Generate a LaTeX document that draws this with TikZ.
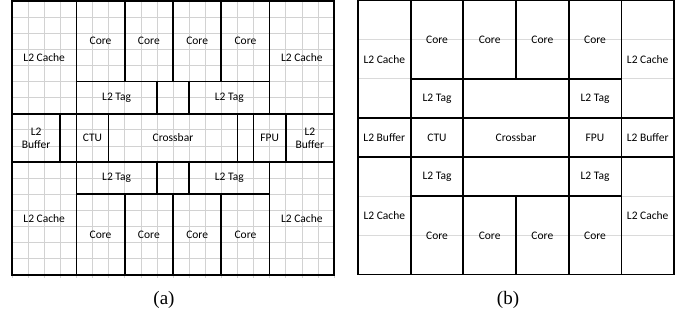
\documentclass[tikz,border=0pt]{standalone}
\usepackage{fontspec}
\usepackage{xcolor}
\newfontfamily\lblfont{Carlito}
\newfontfamily\capfont{Liberation Serif}
\definecolor{gridGray}{HTML}{D2D2D2}
\definecolor{faintGray}{HTML}{DADADA}
\newcommand{\cwa}{16.1pt}
\newcommand{\cwb}{52.67pt}
\newcommand{\chb}{39.14pt}
\tikzset{
  unitbox/.style={draw=black, line width=1.7pt, anchor=north west, inner sep=0pt, outer sep=0pt,
               align=center, font=\lblfont\fontsize{11.5}{13}\selectfont},
  ublk/.style 2 args={unitbox, minimum width=#1*\cwa, minimum height=#2*\cwa},
  vblk/.style 2 args={unitbox, minimum width=#1*\cwb, minimum height=#2*\chb},
  gridline/.style={draw=gridGray, line width=0.6pt},
  faint/.style={draw=faintGray, line width=0.6pt},
  captext/.style={font=\capfont\fontsize{19}{21}\selectfont},
}

\begin{document}
\begin{tikzpicture}[x=1pt, y=-1pt]
\useasboundingbox (0,0) rectangle (683,320);

% (a) floorplan on the cell grid
\begin{scope}[shift={(12,1)}, x=16.1pt, y=-16.1pt]
\foreach \i in {0,...,20}
  \draw[gridline] (\i,0) -- (\i,17.2);
\foreach \j in {0,...,17}
  \draw[gridline] (0,\j) -- (20,\j);
% upper half
\node[ublk={4}{7}] (acache1) at (0,0) {L2 Cache};
\node[ublk={3}{5}] (acore1) at (4,0) {Core};
\node[ublk={3}{5}] (acore2) at (7,0) {Core};
\node[ublk={3}{5}] (acore3) at (10,0) {Core};
\node[ublk={3}{5}] (acore4) at (13,0) {Core};
\node[ublk={4}{7}] (acache2) at (16,0) {L2 Cache};
\node[ublk={5}{2}] (atag1) at (4,5) {L2 Tag};
\node[ublk={2}{2}] (agap1) at (9,5) {};
\node[ublk={5}{2}] (atag2) at (11,5) {L2 Tag};
% middle row
\node[ublk={3}{3}] (abuf1) at (0,7) {L2\\Buffer};
\node[ublk={1}{3}] (agap2) at (3,7) {};
\node[ublk={2}{3}] (actu) at (4,7) {CTU};
\node[ublk={8}{3}] (axbar) at (6,7) {Crossbar};
\node[ublk={1}{3}] (agap3) at (14,7) {};
\node[ublk={2}{3}] (afpu) at (15,7) {FPU};
\node[ublk={3}{3}] (abuf2) at (17,7) {L2\\Buffer};
% lower half
\node[ublk={5}{2}] (atag3) at (4,10) {L2 Tag};
\node[ublk={2}{2}] (agap4) at (9,10) {};
\node[ublk={5}{2}] (atag4) at (11,10) {L2 Tag};
\node[ublk={4}{7}] (acache3) at (0,10) {L2 Cache};
\node[ublk={3}{5}] (acore5) at (4,12) {Core};
\node[ublk={3}{5}] (acore6) at (7,12) {Core};
\node[ublk={3}{5}] (acore7) at (10,12) {Core};
\node[ublk={3}{5}] (acore8) at (13,12) {Core};
\node[ublk={4}{7}] (acache4) at (16,10) {L2 Cache};
\end{scope}

% (b) floorplan on six columns
\begin{scope}[shift={(358,0.5)}, x=52.67pt, y=-39.14pt]
\foreach \r in {1,...,6}
  \draw[faint] (0,\r) -- (6,\r);
% upper half
\node[vblk={1}{3}] (bcache1) at (0,0) {L2 Cache};
\node[vblk={1}{2}] (bcore1) at (1,0) {Core};
\node[vblk={1}{2}] (bcore2) at (2,0) {Core};
\node[vblk={1}{2}] (bcore3) at (3,0) {Core};
\node[vblk={1}{2}] (bcore4) at (4,0) {Core};
\node[vblk={1}{3}] (bcache2) at (5,0) {L2 Cache};
\node[vblk={1}{1}] (btag1) at (1,2) {L2 Tag};
\node[vblk={2}{1}] (bgap1) at (2,2) {};
\node[vblk={1}{1}] (btag2) at (4,2) {L2 Tag};
% middle row
\node[vblk={1}{1}] (bbuf1) at (0,3) {L2 Buffer};
\node[vblk={1}{1}] (bctu) at (1,3) {CTU};
\node[vblk={2}{1}] (bxbar) at (2,3) {Crossbar};
\node[vblk={1}{1}] (bfpu) at (4,3) {FPU};
\node[vblk={1}{1}] (bbuf2) at (5,3) {L2 Buffer};
% lower half
\node[vblk={1}{3}] (bcache3) at (0,4) {L2 Cache};
\node[vblk={1}{1}] (btag3) at (1,4) {L2 Tag};
\node[vblk={2}{1}] (bgap2) at (2,4) {};
\node[vblk={1}{1}] (btag4) at (4,4) {L2 Tag};
\node[vblk={1}{2}] (bcore5) at (1,5) {Core};
\node[vblk={1}{2}] (bcore6) at (2,5) {Core};
\node[vblk={1}{2}] (bcore7) at (3,5) {Core};
\node[vblk={1}{2}] (bcore8) at (4,5) {Core};
\node[vblk={1}{3}] (bcache4) at (5,4) {L2 Cache};
\end{scope}

% captions
\node[captext] (capa) at (164,300) {(a)};
\node[captext] (capb) at (508,300) {(b)};

\end{tikzpicture}
\end{document}
